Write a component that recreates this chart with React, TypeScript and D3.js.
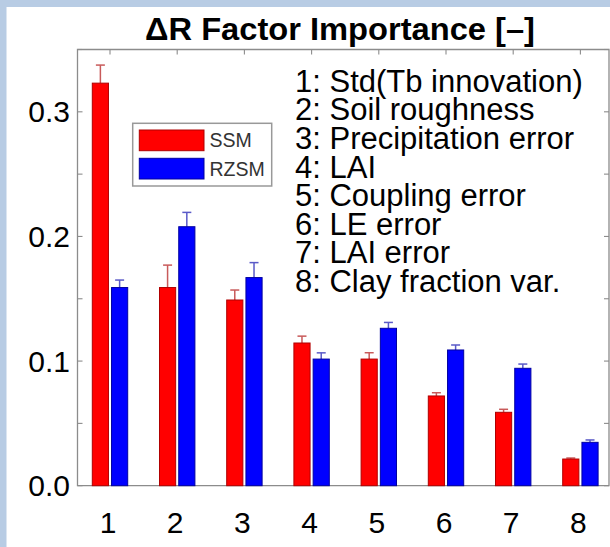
import { scaleBand, scaleLinear, range } from "d3";

const categories = ["1", "2", "3", "4", "5", "6", "7", "8"];
const seriesNames = ["SSM", "RZSM"];
const ssm = [0.323, 0.159, 0.149, 0.1145, 0.1016, 0.072, 0.0589, 0.0214];
const ssmUpper = [0.3375, 0.177, 0.157, 0.12, 0.1067, 0.0746, 0.0613, 0.0222];
const rzsm = [0.159, 0.2078, 0.167, 0.1016, 0.1263, 0.1089, 0.0942, 0.0348];
const rzsmUpper = [0.165, 0.2193, 0.179, 0.1066, 0.131, 0.1129, 0.0976, 0.0367];
const yTicks = [0, 0.1, 0.2, 0.3];
const factorNames = [
  "1: Std(Tb innovation)",
  "2: Soil roughness",
  "3: Precipitation error",
  "4: LAI",
  "5: Coupling error",
  "6: LE error",
  "7: LAI error",
  "8: Clay fraction var.",
];
const title = "ΔR Factor Importance [–]";

export default function App() {
  const width = 610;
  const height = 547;
  const left = 77.5;
  const right = 609;
  const top = 49.5;
  const bottom = 485.7;

  const x = scaleBand().domain(categories).range([76.4, 614]).padding(0);
  const inner = scaleBand().domain(seriesNames).range([-17.7, 17.7]).paddingInner(0.16);
  const y = scaleLinear().domain([0, 0.35]).range([bottom, top]);

  const fills = { SSM: "#ff0000", RZSM: "#0000ff" };
  const strokes = { SSM: "#b00000", RZSM: "#0000a0" };
  const errColors = { SSM: "#c85a5a", RZSM: "#5a5ac8" };
  const values = { SSM: ssm, RZSM: rzsm };
  const uppers = { SSM: ssmUpper, RZSM: rzsmUpper };
  const minor = range(0, 0.351, 0.05);
  const font = "Arial, 'Liberation Sans', sans-serif";

  return (
    <svg
      width={width}
      height={height}
      viewBox={`0 0 ${width} ${height}`}
      style={{ position: "fixed", left: 0, top: 0, background: "#fff" }}
      fontFamily={font}
    >
      <rect x={0} y={0} width={width} height={height} fill="#fff" />
      <rect x={0} y={0} width={width} height={7} fill="#b8cce4" />
      <rect x={0} y={0} width={6.5} height={height} fill="#b8cce4" />

      {/* axes box */}
      <path
        d={`M${left} ${top} H${right} V${bottom} H${left} Z`}
        fill="none"
        stroke="#8c8c8c"
        strokeWidth={1.3}
      />
      {minor.map((v) => (
        <g key={v} stroke="#8c8c8c" strokeWidth={1.1}>
          <line x1={left} x2={left + 5} y1={y(v)} y2={y(v)} />
          <line x1={right - 5} x2={right} y1={y(v)} y2={y(v)} />
        </g>
      ))}
      {categories.map((c) => {
        const cx = (x(c) ?? 0) + x.bandwidth() / 2;
        return (
          <line key={c} x1={cx} x2={cx} y1={top} y2={top + 5} stroke="#8c8c8c" strokeWidth={1.1} />
        );
      })}

      {/* bars */}
      {categories.map((c, i) => {
        const cx = (x(c) ?? 0) + x.bandwidth() / 2;
        return (
          <g key={c}>
            {seriesNames.map((s) => {
              const bx = cx + (inner(s) ?? 0);
              const v = values[s][i];
              const u = uppers[s][i];
              const mid = bx + inner.bandwidth() / 2;
              return (
                <g key={s}>
                  <line x1={mid} x2={mid} y1={y(v)} y2={y(u)} stroke={errColors[s]} strokeWidth={1.5} />
                  <line x1={mid - 4.5} x2={mid + 4.5} y1={y(u)} y2={y(u)} stroke={errColors[s]} strokeWidth={1.5} />
                  <rect
                    x={bx}
                    y={y(v)}
                    width={inner.bandwidth()}
                    height={bottom - y(v)}
                    fill={fills[s]}
                    stroke={strokes[s]}
                    strokeWidth={1}
                  />
                </g>
              );
            })}
          </g>
        );
      })}

      {/* y tick labels */}
      {yTicks.map((t) => (
        <text key={t} x={70} y={y(t)} textAnchor="end" dominantBaseline="central" fontSize={30} fill="#000">
          {t.toFixed(1)}
        </text>
      ))}

      {/* x tick labels */}
      {categories.map((c) => (
        <text
          key={c}
          x={(x(c) ?? 0) + x.bandwidth() / 2 - 2}
          y={533}
          textAnchor="middle"
          fontSize={30}
          fill="#000"
        >
          {c}
        </text>
      ))}

      {/* title */}
      <text x={340} y={40} textAnchor="middle" fontSize={31} fontWeight="bold" textLength={390} lengthAdjust="spacingAndGlyphs">
        {title}
      </text>

      {/* factor list */}
      {factorNames.map((n, i) => (
        <text key={n} x={295} y={91.7 + i * 28.6} fontSize={31} fill="#000">
          {n}
        </text>
      ))}

      {/* legend */}
      <rect x={132.7} y={123.3} width={139} height={62.7} fill="#fff" stroke="#999" strokeWidth={1.5} />
      {seriesNames.map((s, i) => (
        <g key={s}>
          <rect
            x={139.3}
            y={130 + i * 28.3}
            width={64.7}
            height={20.7}
            fill={fills[s]}
            stroke={strokes[s]}
            strokeWidth={1}
          />
          <text x={209.5} y={140.4 + i * 28.3} dominantBaseline="central" fontSize={19.5} fill="#333">
            {s}
          </text>
        </g>
      ))}
    </svg>
  );
}
